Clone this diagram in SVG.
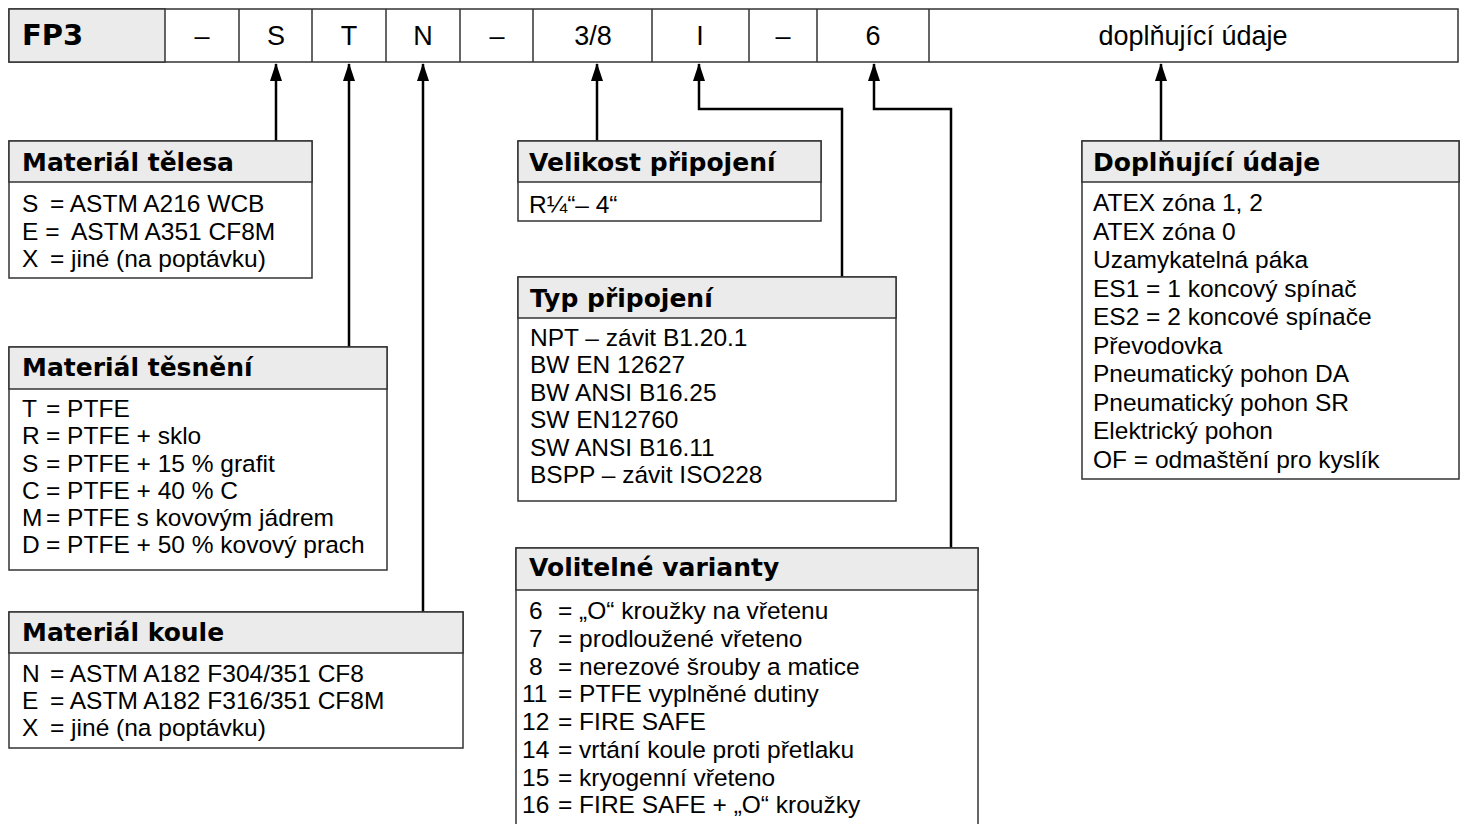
<svg xmlns="http://www.w3.org/2000/svg" width="1466" height="824" viewBox="0 0 1466 824">
<style>
.box{fill:#fff;stroke:#333;stroke-width:1.5}
.hdr{fill:#ebebeb;stroke:#333;stroke-width:1.5}
.ht{font-family:"DejaVu Sans",sans-serif;font-weight:bold;font-size:25px;fill:#000}
.bt{font-family:"Liberation Sans",Arial,sans-serif;font-size:24.5px;fill:#000}
.tt{font-family:"Liberation Sans",Arial,sans-serif;font-size:27px;fill:#000;text-anchor:middle}
.fp{font-family:"DejaVu Sans",sans-serif;font-weight:bold;font-size:29px;fill:#000}
.con{fill:none;stroke:#000;stroke-width:2.5;marker-end:url(#arr)}
.div{stroke:#333;stroke-width:1.5}
</style>
<defs>
<marker id="arr" viewBox="0 0 18 12" refX="17" refY="6" markerWidth="18" markerHeight="12" markerUnits="userSpaceOnUse" orient="auto">
<path d="M0,0 L18,6 L0,12 z" fill="#000"/>
</marker>
</defs>
<rect width="1466" height="824" fill="#fff"/>

<g id="code-bar">
<rect class="box" x="9" y="9" width="1449" height="53"/>
<rect class="hdr" x="9" y="9" width="156" height="53"/>
<line class="div" x1="239" y1="9" x2="239" y2="62"/>
<line class="div" x1="312" y1="9" x2="312" y2="62"/>
<line class="div" x1="386" y1="9" x2="386" y2="62"/>
<line class="div" x1="460" y1="9" x2="460" y2="62"/>
<line class="div" x1="533" y1="9" x2="533" y2="62"/>
<line class="div" x1="652" y1="9" x2="652" y2="62"/>
<line class="div" x1="749" y1="9" x2="749" y2="62"/>
<line class="div" x1="817" y1="9" x2="817" y2="62"/>
<line class="div" x1="929" y1="9" x2="929" y2="62"/>
<text class="fp" x="22" y="45">FP3</text>
<text class="tt" x="202" y="45">–</text>
<text class="tt" x="276" y="45">S</text>
<text class="tt" x="349" y="45">T</text>
<text class="tt" x="423" y="45">N</text>
<text class="tt" x="497" y="45">–</text>
<text class="tt" x="593" y="45">3/8</text>
<text class="tt" x="700" y="45">I</text>
<text class="tt" x="783" y="45">–</text>
<text class="tt" x="873" y="45">6</text>
<text class="tt" x="1193" y="45">doplňující údaje</text>
</g>

<g id="connectors">
<path class="con" d="M276,141 V64"/>
<path class="con" d="M349,347 V64"/>
<path class="con" d="M423,612 V64"/>
<path class="con" d="M597,141 V64"/>
<path class="con" d="M842,277 V109 H699 V64"/>
<path class="con" d="M951,548 V109 H874 V64"/>
<path class="con" d="M1161,141 V64"/>
</g>

<g id="material-telesa">
<rect class="box" x="9" y="141" width="303" height="137"/>
<rect class="hdr" x="9" y="141" width="303" height="41"/>
<text class="ht" x="22" y="171">Materiál tělesa</text>
<text class="bt" y="212"><tspan x="22">S</tspan><tspan x="50">= ASTM A216 WCB</tspan></text>
<text class="bt" y="240"><tspan x="22">E =</tspan><tspan x="71">ASTM A351 CF8M</tspan></text>
<text class="bt" y="267"><tspan x="22">X</tspan><tspan x="50">= jiné (na poptávku)</tspan></text>
</g>

<g id="material-tesneni">
<rect class="box" x="9" y="347" width="378" height="223"/>
<rect class="hdr" x="9" y="347" width="378" height="42"/>
<text class="ht" x="22" y="376">Materiál těsnění</text>
<text class="bt" y="417"><tspan x="22">T</tspan><tspan x="46">= PTFE</tspan></text>
<text class="bt" y="444"><tspan x="22">R</tspan><tspan x="46">= PTFE + sklo</tspan></text>
<text class="bt" y="472"><tspan x="22">S</tspan><tspan x="46">= PTFE + 15 % grafit</tspan></text>
<text class="bt" y="499"><tspan x="22">C</tspan><tspan x="46">= PTFE + 40 % C</tspan></text>
<text class="bt" y="526"><tspan x="22">M</tspan><tspan x="46">= PTFE s kovovým jádrem</tspan></text>
<text class="bt" y="553"><tspan x="22">D</tspan><tspan x="46">= PTFE + 50 % kovový prach</tspan></text>
</g>

<g id="material-koule">
<rect class="box" x="9" y="612" width="454" height="136"/>
<rect class="hdr" x="9" y="612" width="454" height="41"/>
<text class="ht" x="22" y="641">Materiál koule</text>
<text class="bt" y="682"><tspan x="22">N</tspan><tspan x="50">= ASTM A182 F304/351 CF8</tspan></text>
<text class="bt" y="709"><tspan x="22">E</tspan><tspan x="50">= ASTM A182 F316/351 CF8M</tspan></text>
<text class="bt" y="736"><tspan x="22">X</tspan><tspan x="50">= jiné (na poptávku)</tspan></text>
</g>

<g id="velikost-pripojeni">
<rect class="box" x="518" y="141" width="303" height="80"/>
<rect class="hdr" x="518" y="141" width="303" height="41"/>
<text class="ht" x="529" y="171">Velikost připojení</text>
<text class="bt" x="529" y="213">R¼“– 4“</text>
</g>

<g id="typ-pripojeni">
<rect class="box" x="518" y="277" width="378" height="224"/>
<rect class="hdr" x="518" y="277" width="378" height="41"/>
<text class="ht" x="530" y="307">Typ připojení</text>
<text class="bt" x="530" y="346">NPT – závit B1.20.1</text>
<text class="bt" x="530" y="373">BW EN 12627</text>
<text class="bt" x="530" y="401">BW ANSI B16.25</text>
<text class="bt" x="530" y="428">SW EN12760</text>
<text class="bt" x="530" y="456">SW ANSI B16.11</text>
<text class="bt" x="530" y="483">BSPP – závit ISO228</text>
</g>

<g id="volitelne-varianty">
<rect class="box" x="516" y="548" width="462" height="290"/>
<rect class="hdr" x="516" y="548" width="462" height="42"/>
<text class="ht" x="529" y="576">Volitelné varianty</text>
<text class="bt" y="619"><tspan x="529">6</tspan><tspan x="558">= „O“ kroužky na vřetenu</tspan></text>
<text class="bt" y="647"><tspan x="529">7</tspan><tspan x="558">= prodloužené vřeteno</tspan></text>
<text class="bt" y="675"><tspan x="529">8</tspan><tspan x="558">= nerezové šrouby a matice</tspan></text>
<text class="bt" y="702"><tspan x="522">11</tspan><tspan x="558">= PTFE vyplněné dutiny</tspan></text>
<text class="bt" y="730"><tspan x="522">12</tspan><tspan x="558">= FIRE SAFE</tspan></text>
<text class="bt" y="758"><tspan x="522">14</tspan><tspan x="558">= vrtání koule proti přetlaku</tspan></text>
<text class="bt" y="786"><tspan x="522">15</tspan><tspan x="558">= kryogenní vřeteno</tspan></text>
<text class="bt" y="813"><tspan x="522">16</tspan><tspan x="558">= FIRE SAFE + „O“ kroužky</tspan></text>
</g>

<g id="doplnujici-udaje">
<rect class="box" x="1082" y="141" width="377" height="338"/>
<rect class="hdr" x="1082" y="141" width="377" height="41"/>
<text class="ht" x="1093" y="171">Doplňující údaje</text>
<text class="bt" x="1093" y="211">ATEX zóna 1, 2</text>
<text class="bt" x="1093" y="239.5">ATEX zóna 0</text>
<text class="bt" x="1093" y="268">Uzamykatelná páka</text>
<text class="bt" x="1093" y="296.5">ES1 = 1 koncový spínač</text>
<text class="bt" x="1093" y="325">ES2 = 2 koncové spínače</text>
<text class="bt" x="1093" y="353.5">Převodovka</text>
<text class="bt" x="1093" y="382">Pneumatický pohon DA</text>
<text class="bt" x="1093" y="410.5">Pneumatický pohon SR</text>
<text class="bt" x="1093" y="439">Elektrický pohon</text>
<text class="bt" x="1093" y="467.5">OF = odmaštění pro kyslík</text>
</g>
</svg>
